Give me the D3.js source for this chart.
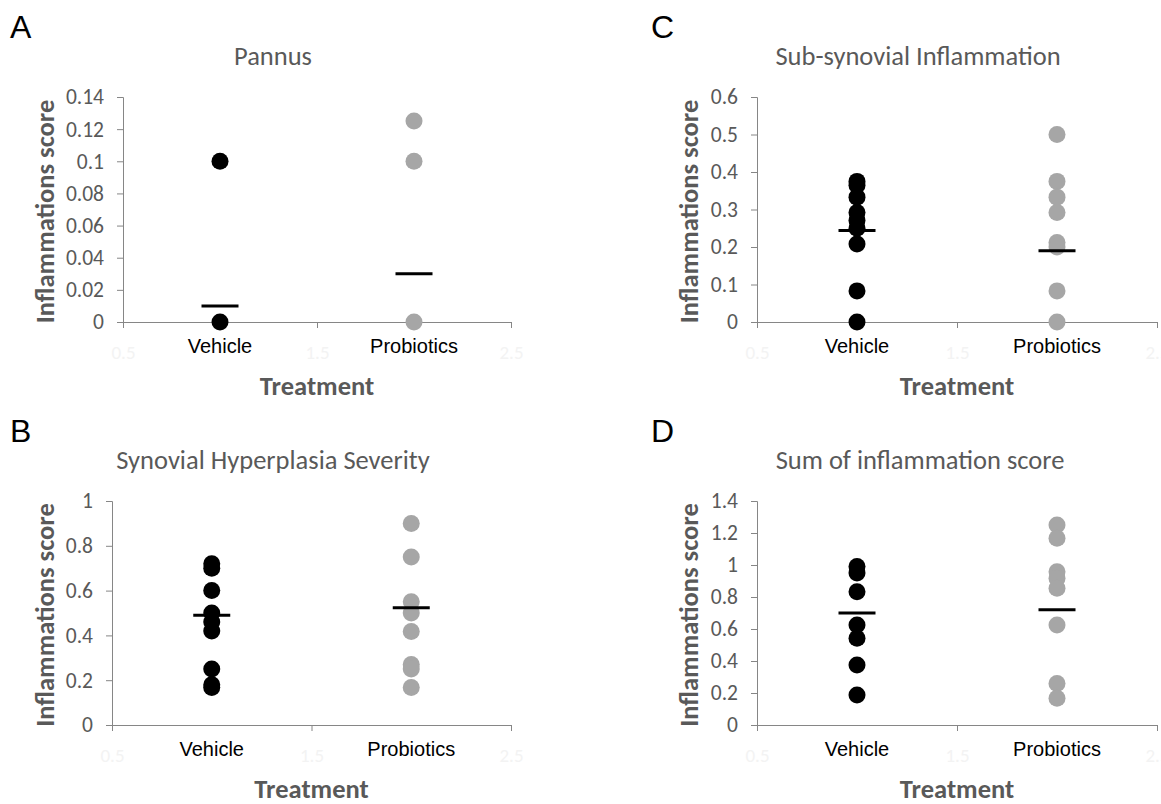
<!DOCTYPE html>
<html>
<head>
<meta charset="utf-8">
<script src="https://cdn.jsdelivr.net/npm/d3@7"></script>
<style>
  body { margin: 0; background: #fff; }
  svg { display: block; }
</style>
</head>
<body>
<div id="chart"></div>
<script>
// Treatment groups and faint numeric x ticks
const categories = ["Vehicle", "Probiotics"];
const xTickValues = [0.5, 1.5, 2.5];

// A - Pannus
const pannusVehicle = [0.1, 0];
const pannusProbiotics = [0.125, 0.1, 0];
const pannusMeans = [0.01, 0.03];
const pannusTicks = [0, 0.02, 0.04, 0.06, 0.08, 0.1, 0.12, 0.14];

// B - Synovial hyperplasia severity
const hyperVehicle = [0.72, 0.70, 0.60, 0.50, 0.46, 0.42, 0.25, 0.18, 0.167];
const hyperProbiotics = [0.9, 0.75, 0.55, 0.5, 0.417, 0.27, 0.25, 0.167];
const hyperMeans = [0.49, 0.523];
const hyperTicks = [0, 0.2, 0.4, 0.6, 0.8, 1];

// C - Sub-synovial inflammation
const subVehicle = [0.375, 0.365, 0.333, 0.292, 0.271, 0.25, 0.208, 0.083, 0];
const subProbiotics = [0.5, 0.375, 0.333, 0.292, 0.212, 0.2, 0.083, 0];
const subMeans = [0.244, 0.19];
const subTicks = [0, 0.1, 0.2, 0.3, 0.4, 0.5, 0.6];

// D - Sum of inflammation score
const sumVehicle = [0.99, 0.95, 0.833, 0.625, 0.542, 0.375, 0.188];
const sumProbiotics = [1.25, 1.167, 0.958, 0.917, 0.854, 0.625, 0.26, 0.167];
const sumMeans = [0.70, 0.72];
const sumTicks = [0, 0.2, 0.4, 0.6, 0.8, 1, 1.2, 1.4];

const W = 1161, H = 804;
const calibri = "Carlito, Calibri, Lato, sans-serif";
const arial = "'Liberation Sans', Arial, sans-serif";
const grey = "#595959";

const svg = d3.select("#chart").append("svg")
    .attr("width", W)
    .attr("height", H);

const panels = [
    {letter: "A", title: "Pannus", vehicle: pannusVehicle, probiotics: pannusProbiotics,
     means: pannusMeans, ticks: pannusTicks, box: {l: 123, r: 511, t: 97, b: 322},
     ox: 0, oy: 0, titleX: 273, ytitleX: 45},
    {letter: "B", title: "Synovial Hyperplasia Severity", vehicle: hyperVehicle, probiotics: hyperProbiotics,
     means: hyperMeans, ticks: hyperTicks, box: {l: 112, r: 511, t: 501, b: 725},
     ox: 0, oy: 404, titleX: 273, ytitleX: 45},
    {letter: "C", title: "Sub-synovial Inflammation", vehicle: subVehicle, probiotics: subProbiotics,
     means: subMeans, ticks: subTicks, box: {l: 757, r: 1157, t: 97, b: 322},
     ox: 641, oy: 0, titleX: 918, ytitleX: 689},
    {letter: "D", title: "Sum of inflammation score", vehicle: sumVehicle, probiotics: sumProbiotics,
     means: sumMeans, ticks: sumTicks, box: {l: 757, r: 1157, t: 501, b: 725},
     ox: 641, oy: 404, titleX: 920, ytitleX: 689}
];

panels.forEach(drawPanel);

function drawPanel(p) {
    const b = p.box;
    const g = svg.append("g");

    const x = d3.scaleLinear().domain([0.5, 2.5]).range([b.l, b.r]);
    const y = d3.scaleLinear()
        .domain([0, d3.max(p.ticks)])
        .range([b.b, b.t]);

    // panel letter
    g.append("text")
        .attr("x", p.ox + 10)
        .attr("y", p.oy + 38)
        .attr("font-family", arial)
        .attr("font-size", 32)
        .attr("fill", "#000")
        .text(p.letter);

    // chart title
    g.append("text")
        .attr("x", p.titleX)
        .attr("y", p.oy + 65)
        .attr("text-anchor", "middle")
        .attr("font-family", calibri)
        .attr("font-size", 26.5)
        .attr("fill", grey)
        .text(p.title);

    // y axis
    const yAxis = d3.axisLeft(y)
        .tickValues(p.ticks)
        .tickSize(6)
        .tickPadding(13)
        .tickFormat(d3.format("~g"));
    const yg = g.append("g")
        .attr("transform", `translate(${b.l},0)`)
        .call(yAxis);
    yg.select(".domain").attr("stroke", "#868686");
    yg.selectAll(".tick line").attr("stroke", "#868686");
    yg.selectAll(".tick text")
        .attr("font-family", calibri)
        .attr("font-size", 21.5)
        .attr("fill", grey);

    // x axis (numeric ticks are almost invisible in the original)
    const xAxis = d3.axisBottom(x)
        .tickValues(xTickValues)
        .tickSize(6)
        .tickPadding(18)
        .tickFormat(d3.format("~g"));
    const xg = g.append("g")
        .attr("transform", `translate(0,${b.b})`)
        .call(xAxis);
    xg.select(".domain").attr("stroke", "#868686");
    xg.selectAll(".tick line").attr("stroke", "#868686");
    xg.selectAll(".tick text")
        .attr("font-family", calibri)
        .attr("font-size", 19)
        .attr("fill", "#f3f3f3");

    // category labels
    g.selectAll(".cat")
        .data(categories)
        .join("text")
        .attr("class", "cat")
        .attr("x", (d, i) => x(i + 1))
        .attr("y", b.b + 31)
        .attr("text-anchor", "middle")
        .attr("font-family", arial)
        .attr("font-size", 20)
        .attr("fill", "#000")
        .text(d => d);

    // axis titles
    g.append("text")
        .attr("transform", `translate(${p.ytitleX},${(b.t + b.b) / 2 + 2}) rotate(-90)`)
        .attr("text-anchor", "middle")
        .attr("dominant-baseline", "central")
        .attr("font-family", calibri)
        .attr("font-weight", "bold")
        .attr("font-size", 26.5)
        .attr("fill", grey)
        .text("Inflammations score");

    g.append("text")
        .attr("x", (b.l + b.r) / 2)
        .attr("y", b.b + 73)
        .attr("text-anchor", "middle")
        .attr("font-family", calibri)
        .attr("font-weight", "bold")
        .attr("font-size", 26.5)
        .attr("fill", grey)
        .text("Treatment");

    // points
    const groups = [
        {pos: 1, values: p.vehicle, color: "#000000"},
        {pos: 2, values: p.probiotics, color: "#a6a6a6"}
    ];
    groups.forEach(grp => {
        g.append("g").selectAll("circle")
            .data(grp.values)
            .join("circle")
            .attr("cx", x(grp.pos))
            .attr("cy", d => y(d))
            .attr("r", 8.5)
            .attr("fill", grp.color);
    });

    // mean bars
    g.append("g").selectAll("line")
        .data(p.means)
        .join("line")
        .attr("x1", (d, i) => x(i + 1) - 18.5)
        .attr("x2", (d, i) => x(i + 1) + 18.5)
        .attr("y1", d => y(d))
        .attr("y2", d => y(d))
        .attr("stroke", "#000")
        .attr("stroke-width", 3);
}
</script>
</body>
</html>
